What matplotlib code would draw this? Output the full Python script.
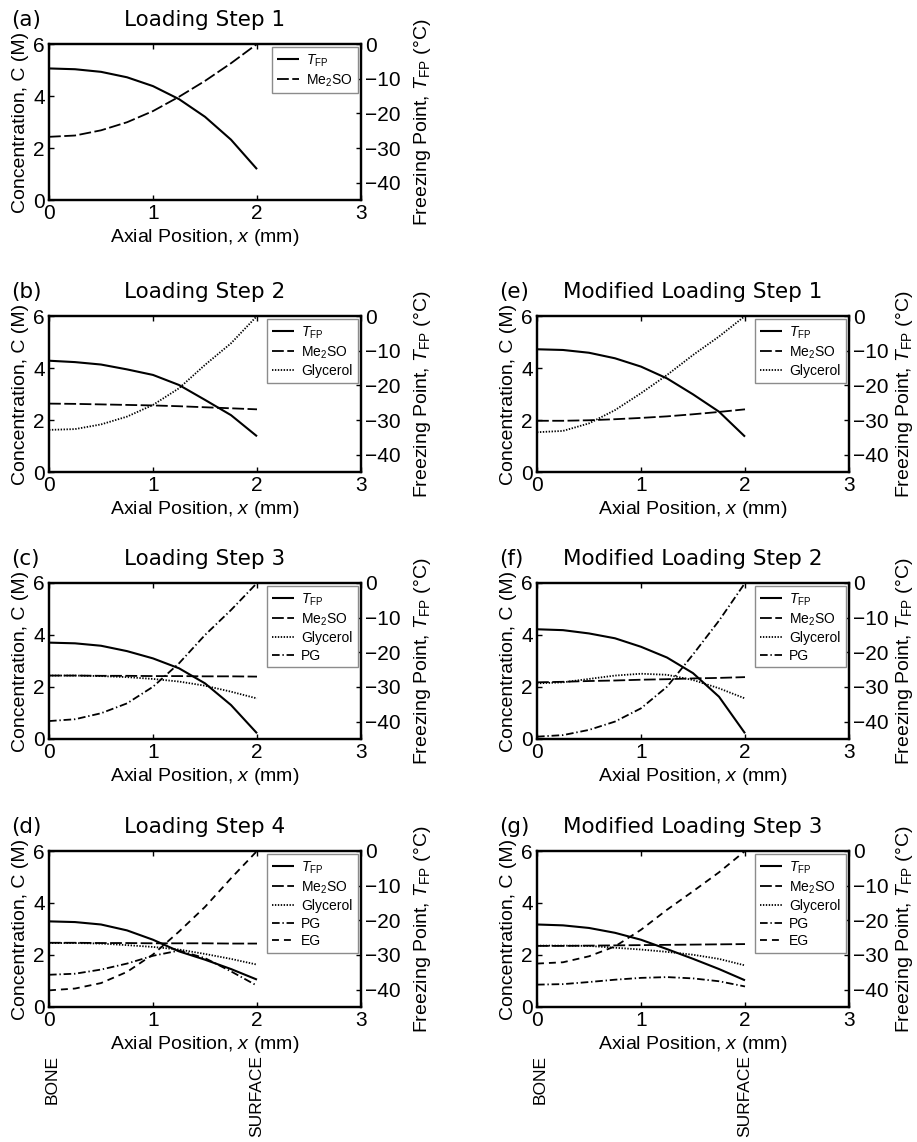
import matplotlib
matplotlib.use('Agg')
import matplotlib.pyplot as plt
import matplotlib.transforms as mtransforms

plt.rcParams['font.family'] = ['Liberation Sans', 'DejaVu Sans']
plt.rcParams['mathtext.fontset'] = 'custom'
plt.rcParams['mathtext.rm'] = 'Liberation Sans'
plt.rcParams['mathtext.it'] = 'Liberation Sans:italic'
plt.rcParams['lines.scale_dashes'] = False
plt.rcParams['axes.unicode_minus'] = True

# axial position (mm), bone at 0, surface at 2
x_mm = [0, 0.25, 0.5, 0.75, 1.0, 1.25, 1.5, 1.75, 2.0]

# (a) Loading Step 1
a_tfp = [-7.05, -7.28, -8.03, -9.6, -12.15, -15.9, -21.0, -27.6, -36.1]
a_me2so = [2.43, 2.48, 2.68, 2.99, 3.42, 3.97, 4.58, 5.26, 6.0]

# (b) Loading Step 2
b_tfp = [-12.9, -13.3, -14.0, -15.4, -17.0, -19.9, -24.2, -28.6, -34.7]
b_me2so = [2.63, 2.62, 2.60, 2.58, 2.56, 2.53, 2.49, 2.45, 2.41]
b_gly = [1.62, 1.65, 1.83, 2.13, 2.58, 3.22, 4.12, 4.95, 6.0]

# (c) Loading Step 3
c_tfp = [-17.2, -17.4, -18.1, -19.65, -21.75, -24.6, -28.95, -35.2, -43.35]
c_me2so = [2.44, 2.44, 2.43, 2.43, 2.42, 2.42, 2.41, 2.41, 2.40]
c_gly = [2.44, 2.44, 2.42, 2.38, 2.31, 2.21, 2.05, 1.82, 1.56]
c_pg = [0.69, 0.76, 0.99, 1.37, 2.01, 2.91, 4.0, 4.96, 6.0]

# (d) Loading Step 4
d_tfp = [-20.3, -20.5, -21.2, -22.9, -25.6, -28.95, -31.35, -34.05, -37.1]
d_me2so = [2.47, 2.47, 2.46, 2.46, 2.45, 2.45, 2.45, 2.44, 2.44]
d_gly = [2.46, 2.46, 2.44, 2.38, 2.31, 2.21, 2.04, 1.85, 1.63]
d_pg = [1.24, 1.28, 1.44, 1.67, 1.97, 2.17, 1.88, 1.37, 0.82]
d_eg = [0.64, 0.71, 0.92, 1.35, 2.02, 2.9, 3.85, 4.95, 6.0]

# (e) Modified Loading Step 1
e_tfp = [-9.6, -9.8, -10.6, -12.2, -14.6, -18.0, -22.6, -27.6, -34.8]
e_me2so = [1.97, 1.97, 1.99, 2.03, 2.08, 2.14, 2.22, 2.31, 2.41]
e_gly = [1.53, 1.58, 1.87, 2.38, 3.03, 3.73, 4.50, 5.21, 6.0]

# (f) Modified Loading Step 2
f_tfp = [-13.35, -13.6, -14.55, -15.95, -18.4, -21.5, -26.0, -32.8, -43.35]
f_me2so = [2.18, 2.20, 2.23, 2.25, 2.28, 2.30, 2.33, 2.35, 2.38]
f_gly = [2.14, 2.18, 2.31, 2.44, 2.51, 2.47, 2.27, 1.95, 1.56]
f_pg = [0.09, 0.15, 0.35, 0.67, 1.18, 2.01, 3.25, 4.55, 6.0]

# (g) Modified Loading Step 3
g_tfp = [-21.2, -21.45, -22.2, -23.6, -25.6, -28.3, -31.1, -34.05, -37.3]
g_me2so = [2.35, 2.35, 2.36, 2.37, 2.38, 2.39, 2.40, 2.41, 2.42]
g_gly = [2.36, 2.36, 2.35, 2.28, 2.21, 2.12, 2.01, 1.85, 1.60]
g_pg = [0.86, 0.88, 0.96, 1.05, 1.12, 1.15, 1.10, 0.99, 0.79]
g_eg = [1.67, 1.72, 1.95, 2.33, 2.97, 3.74, 4.45, 5.18, 6.0]

letters = ['(a)', '(b)', '(c)', '(d)', '(e)', '(f)', '(g)']
titles = ['Loading Step 1', 'Loading Step 2', 'Loading Step 3', 'Loading Step 4',
          'Modified Loading Step 1', 'Modified Loading Step 2', 'Modified Loading Step 3']
cpa_names = ['Me$_2$SO', 'Glycerol', 'PG', 'EG']

panel_tfp = [a_tfp, b_tfp, c_tfp, d_tfp, e_tfp, f_tfp, g_tfp]
panel_cpa = [[a_me2so], [b_me2so, b_gly], [c_me2so, c_gly, c_pg],
             [d_me2so, d_gly, d_pg, d_eg], [e_me2so, e_gly],
             [f_me2so, f_gly, f_pg], [g_me2so, g_gly, g_pg, g_eg]]

cpa_dashes = [(8.5, 2.5), (1.0, 1.1), (5.5, 2.0, 1.0, 2.0), (5.0, 3.6)]

W, H = 917, 1142
fig = plt.figure(figsize=(W / 100, H / 100), dpi=100)

col_left = [49, 537]
ax_w = 312
ax_h = 156
row_bottom = [200, 472, 739, 1007]
slots = [(0, 0), (0, 1), (0, 2), (0, 3), (1, 1), (1, 2), (1, 3)]

for i, (col, row) in enumerate(slots):
    ax = fig.add_axes([col_left[col] / W, 1 - row_bottom[row] / H, ax_w / W, ax_h / H])
    ax2 = ax.twinx()

    handles = []
    h, = ax2.plot(x_mm, panel_tfp[i], color='black', lw=1.5, solid_capstyle='butt',
                  label=r'$T_{\mathrm{FP}}$')
    handles.append(h)
    for k, vals in enumerate(panel_cpa[i]):
        h, = ax.plot(x_mm, vals, color='black', lw=1.3, dashes=cpa_dashes[k],
                     label=cpa_names[k])
        handles.append(h)

    ax.set_xlim(0, 3)
    ax.set_ylim(0, 6)
    ax.set_xticks([0, 1, 2, 3])
    ax.set_yticks([0, 2, 4, 6])
    ax2.set_ylim(-45, 0)
    ax2.set_yticks([-40, -30, -20, -10, 0])

    ax.tick_params(direction='in', top=True, right=False, length=3.5, width=1,
                   labelsize=15, pad=3)
    ax2.tick_params(direction='in', length=3.5, width=1, labelsize=15, pad=3)
    for sp in ax.spines.values():
        sp.set_linewidth(1.6)
    for sp in ax2.spines.values():
        sp.set_linewidth(1.6)

    ax.set_xlabel(r'Axial Position, $x$ (mm)', fontsize=14, labelpad=3)
    ax.set_ylabel('Concentration, C (M)', fontsize=14, labelpad=3)
    ax2.set_ylabel(r'Freezing Point, $T_{\mathrm{FP}}$ (°C)', fontsize=14,
                   labelpad=8 if col == 0 else 4)

    ax.set_title(titles[i], fontsize=15.5, family='DejaVu Sans', pad=13)
    ax.annotate(letters[i], xy=(0, 1), xycoords='axes fraction', xytext=(-27, 13),
                textcoords='offset points', va='baseline', ha='left',
                fontsize=15.5, family='DejaVu Sans')

    leg = ax2.legend(handles=handles, loc='upper right', fontsize=10, frameon=True,
                     fancybox=False, framealpha=1, edgecolor='#8c8c8c',
                     handlelength=1.6, handletextpad=0.5, labelspacing=0.25,
                     borderpad=0.35, borderaxespad=0.25)
    leg.get_frame().set_linewidth(1.0)

    if row == 3:
        trans = mtransforms.blended_transform_factory(ax.transData, ax.transAxes)
        ax.text(0.03, -0.31, 'BONE', transform=trans, rotation=90, va='top',
                ha='center', fontsize=12.5)
        ax.text(2.0, -0.31, 'SURFACE', transform=trans, rotation=90, va='top',
                ha='center', fontsize=12.5)

fig.savefig('out.png', dpi=100)
